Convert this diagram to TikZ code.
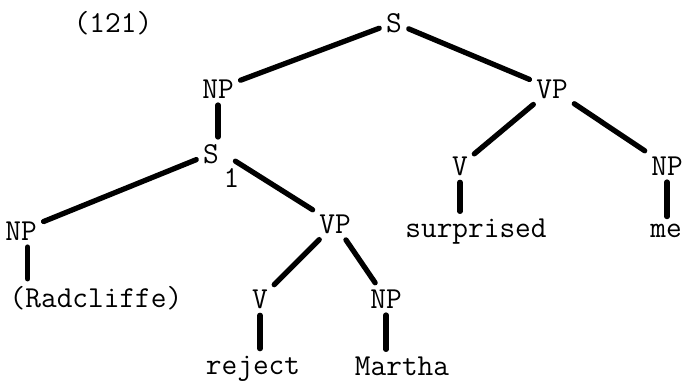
\documentclass[tikz,border=0pt]{standalone}
\usepackage{fontspec}
\usepackage{tikz}
\usetikzlibrary{calc}

\begin{document}
\begin{tikzpicture}[every node/.style={inner sep=4pt,outer sep=0,anchor=base,font=\fontsize{26}{30}\selectfont\ttfamily},
    branch/.style={line width=4.5pt,line cap=round,shorten <=2pt,shorten >=2pt}]
    \useasboundingbox (0,0) rectangle (20.55,-11.43);
    \node(num) at (3.39,-0.96) {(121)};
    \node(s) at (11.82,-0.96) {S};
    \node(np1) at ($(-5.28,-1.98) + (s.base)$) {NP}; \draw[branch] (s) -- (np1);
    \node(vp1) at ($(4.74,-1.98) + (s.base)$) {VP}; \draw[branch] (s) -- (vp1);

    \node[label={[anchor=north west,inner sep=0]south east:1}](s1) at ($(-0.21,-1.95) + (np1.base)$) {S}; \draw[branch] (np1) -- (np1 |- s1.north);
    \node(np3) at ($(-5.70,-2.31) + (s1.base)$) {NP}; \draw[branch] (s1) -- (np3);
    \node(vp2) at ($(3.72,-2.10) + (s1.base)$) {VP}; \draw[branch, shorten <=12pt] (s1.east) -- (vp2);
    \node(rad) at ($(2.25,-2.01) + (np3.base)$) {(Radcliffe)}; \draw[branch] ([xshift=0.2cm]np3.south) -- ([xshift=0.2cm]np3 |- rad.north);
    \node(v2) at ($(-2.25,-2.25) + (vp2.base)$) {V}; \draw[branch] (vp2) -- (v2);
    \node(np4) at ($(1.53,-2.25) + (vp2.base)$) {NP}; \draw[branch] (vp2) -- (np4);
    \node(rej) at ($(-0.21,-1.98) + (v2.base)$) {reject}; \draw[branch] (v2) -- (v2 |- rej.north);
    \node(mar) at ($(0.48,-2.01) + (np4.base)$) {Martha}; \draw[branch] (np4) -- (np4 |- mar.north);

    \node(v1) at ($(-2.76,-2.31) + (vp1.base)$) {V}; \draw[branch] (vp1) -- (v1);
    \node(np2) at ($(3.45,-2.31) + (vp1.base)$) {NP}; \draw[branch] (vp1) -- (np2);
    \node(sur) at ($(0.48,-1.86) + (v1.base)$) {surprised}; \draw[branch] (v1) -- (v1 |- sur.north);
    \node(me) at ($(-0.03,-1.86) + (np2.base)$) {me}; \draw[branch] (np2) -- (np2 |- me.north);
\end{tikzpicture}
\end{document}
